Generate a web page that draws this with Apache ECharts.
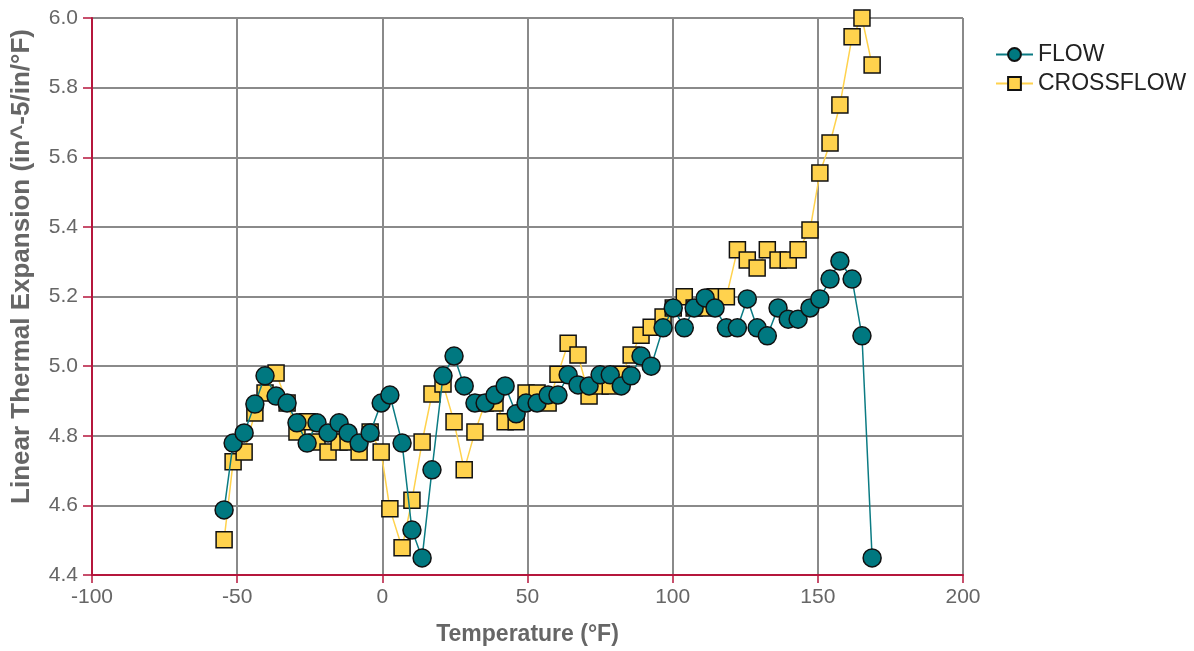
<!DOCTYPE html>
<html>
<head>
<meta charset="utf-8">
<title>Linear Thermal Expansion</title>
<script src="https://cdn.jsdelivr.net/npm/echarts@6/dist/echarts.min.js"></script>
<style>
  html, body { margin: 0; padding: 0; background: #fff; }
  #chart { width: 1194px; height: 651px; }
</style>
</head>
<body>
<div id="chart"></div>
<script>
'use strict';
// 温度 (°F)，两组数据共用
var temps = [
    -54.5, -51.4, -47.6, -43.9, -40.4, -36.6, -32.8, -29.4, -25.9, -22.5,
    -18.7, -14.9, -11.8, -8.0, -4.2, -0.4, 2.6, 6.8, 10.2, 13.7,
    17.1, 20.9, 24.7, 28.2, 31.9, 35.4, 38.8, 42.3, 46.1, 49.5,
    53.3, 57.1, 60.5, 64.0, 67.4, 71.2, 75.0, 78.5, 82.3, 85.7,
    89.1, 92.6, 96.7, 100.2, 104.0, 107.4, 111.2, 114.6, 118.5, 122.3,
    125.7, 129.1, 132.6, 136.3, 139.8, 143.2, 147.3, 150.7, 154.2, 157.6,
    161.8, 165.2, 168.7
];
var flow = [
    4.587, 4.779, 4.808, 4.891, 4.972, 4.914, 4.894, 4.837, 4.779, 4.837,
    4.808, 4.837, 4.808, 4.779, 4.808, 4.894, 4.917, 4.779, 4.529, 4.449,
    4.702, 4.972, 5.029, 4.943, 4.894, 4.894, 4.917, 4.943, 4.863, 4.894,
    4.894, 4.917, 4.917, 4.975, 4.946, 4.943, 4.975, 4.975, 4.943, 4.972,
    5.029, 5.000, 5.110, 5.167, 5.110, 5.167, 5.196, 5.167, 5.110, 5.110,
    5.193, 5.110, 5.087, 5.167, 5.135, 5.135, 5.167, 5.193, 5.250, 5.302,
    5.250, 5.087, 4.449
];
var crossflow = [
    4.501, 4.725, 4.753, 4.865, 4.923, 4.980, 4.894, 4.811, 4.840, 4.782,
    4.753, 4.782, 4.782, 4.753, 4.811, 4.753, 4.590, 4.478, 4.615, 4.782,
    4.920, 4.949, 4.840, 4.702, 4.811, 4.894, 4.894, 4.840, 4.840, 4.923,
    4.923, 4.894, 4.977, 5.066, 5.032, 4.914, 4.943, 4.943, 4.977, 5.032,
    5.089, 5.112, 5.141, 5.167, 5.199, 5.167, 5.167, 5.199, 5.199, 5.334,
    5.305, 5.282, 5.334, 5.305, 5.305, 5.334, 5.391, 5.555, 5.641, 5.750,
    5.946, 6.000, 5.865
];
var seriesNames = ['FLOW', 'CROSSFLOW'];

function pairs(xs, ys) {
    var arr = [];
    for (var i = 0; i < xs.length; i++) {
        arr.push([xs[i], ys[i]]);
    }
    return arr;
}

var axisRed = '#b5163c';
var textGray = '#666666';
var fontFam = '"Liberation Sans", Arial, sans-serif';

var chart = echarts.init(document.getElementById('chart'));
var option = {
    animation: false,
    textStyle: { fontFamily: fontFam },
    grid: { left: 92, right: 231, top: 18, bottom: 76 },
    legend: {
        orient: 'vertical',
        left: 990,
        top: 38,
        itemGap: 6,
        itemWidth: 37,
        itemHeight: 16,
        textStyle: { color: '#222', fontSize: 23, fontFamily: fontFam },
        data: seriesNames
    },
    xAxis: {
        type: 'value',
        min: -100,
        max: 200,
        interval: 50,
        name: 'Temperature (°F)',
        nameLocation: 'middle',
        nameGap: 48,
        nameTextStyle: { color: textGray, fontSize: 23, fontWeight: 'bold' },
        axisLine: { show: true, onZero: false, lineStyle: { color: axisRed, width: 2 } },
        axisTick: { show: true, length: 8, lineStyle: { color: axisRed, width: 1.5 } },
        axisLabel: { color: textGray, fontSize: 21, margin: 12 },
        splitLine: { show: true, lineStyle: { color: '#8a8a8a', width: 2 } }
    },
    yAxis: {
        type: 'value',
        min: 4.4,
        max: 6.0,
        interval: 0.2,
        name: 'Linear Thermal Expansion (in^-5/in/°F)',
        nameLocation: 'middle',
        nameGap: 57,
        nameTextStyle: {
            color: textGray,
            fontSize: 26,
            fontWeight: 'bold',
            padding: [0, 0, 0, 60]
        },
        axisLine: { show: true, onZero: false, lineStyle: { color: axisRed, width: 2 } },
        axisTick: { show: true, length: 9, lineStyle: { color: axisRed, width: 1.5 } },
        axisLabel: {
            color: textGray,
            fontSize: 21,
            margin: 14,
            formatter: function (v) { return v.toFixed(1); }
        },
        splitLine: { show: true, lineStyle: { color: '#8a8a8a', width: 2 } }
    },
    series: [
        {
            name: seriesNames[0],
            type: 'line',
            data: pairs(temps, flow),
            symbol: 'circle',
            symbolSize: 18,
            z: 3,
            lineStyle: { color: '#0b7b83', width: 1.5 },
            itemStyle: { color: '#007880', borderColor: '#111', borderWidth: 1.5 }
        },
        {
            name: seriesNames[1],
            type: 'line',
            data: pairs(temps, crossflow),
            symbol: 'rect',
            symbolSize: 16,
            z: 2,
            lineStyle: { color: '#ffd24d', width: 1.5 },
            itemStyle: { color: '#ffd24d', borderColor: '#111', borderWidth: 1.5 }
        }
    ]
};
chart.setOption(option);
</script>
</body>
</html>
